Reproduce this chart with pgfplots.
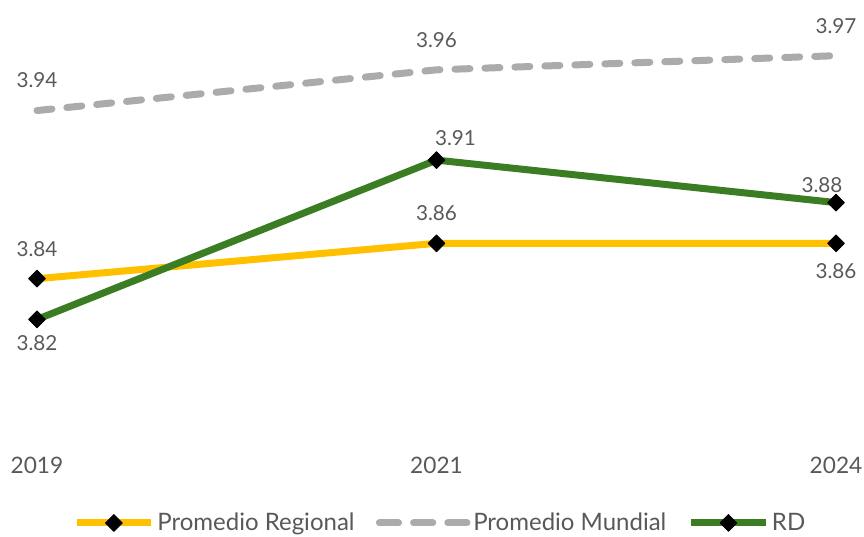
\documentclass[border=0pt]{standalone}
\usepackage{fontspec}
\setmainfont{Lato}
\usepackage{pgfplots}
\pgfplotsset{compat=1.18}
\definecolor{cyel}{HTML}{FFC000}
\definecolor{cgrn}{HTML}{3B7D23}
\definecolor{cgry}{HTML}{ABABAB}
\definecolor{ctxt}{HTML}{595959}
\begin{document}
\begin{tikzpicture}
\begin{axis}[
  at={(0,0)}, anchor=south west,
  scale only axis, width=599.25pt, height=331.875pt,
  xmin=0, xmax=2, ymin=3.75, ymax=4.0,
  axis line style={draw=none},
  xtick={0,1,2}, xticklabels={2019,2021,2024}, ytick=\empty,
  major tick length=0pt,
  xticklabel style={anchor=center, yshift=-20.25pt, font=\fontsize{17}{20}\selectfont, text=ctxt},
  clip=false,
  /pgf/number format/assume math mode=true,
  point meta=y,
  every node near coord/.append style={anchor=center, font=\fontsize{15.5}{18}\selectfont, text=ctxt},
  legend style={at={(0.505,-0.192)}, anchor=center, draw=none, fill=none,
    font=\fontsize{18}{21}\selectfont, text=ctxt,
    /tikz/every even column/.append style={column sep=14pt}},
  legend columns=3,
  legend image code/.code={\draw[mark repeat=2,mark phase=2] plot coordinates {(0pt,0pt) (28pt,0pt) (56pt,0pt)};},
]
\addplot[cyel, line width=5.25pt, line join=round, mark=square*, mark size=4.5pt,
  mark options={rotate=45, fill=black, draw=black, solid, line width=0.5pt},
  nodes near coords={\pgfmathprintnumber[fixed,precision=2,fixed zerofill]{\pgfplotspointmeta}},
  visualization depends on={value \thisrow{dx}\as\dx},
  visualization depends on={value \thisrow{dy}\as\dy},
  every node near coord/.append style={xshift={\dx*0.75pt}, yshift={\dy*0.75pt}}]
  table[x=x,y=y] {
x y dx dy
0 3.840 0 30
1 3.860 0 30
2 3.860 0 -28
};
\addlegendentry{Promedio Regional}
\addplot[cgry, line width=5.25pt, line cap=round, dash pattern=on 11.25pt off 11.25pt,
  nodes near coords={\pgfmathprintnumber[fixed,precision=2,fixed zerofill]{\pgfplotspointmeta}},
  visualization depends on={value \thisrow{dx}\as\dx},
  visualization depends on={value \thisrow{dy}\as\dy},
  every node near coord/.append style={xshift={\dx*0.75pt}, yshift={\dy*0.75pt}},
  legend image code/.code={\draw[dash pattern=on 14.4pt off 11.25pt] (2.6pt,0pt) -- (68.4pt,0pt);}]
  table[x=x,y=y] {
x y dx dy
0 3.935 0 30
1 3.958 0 30
2 3.966 0 30
};
\addlegendentry{Promedio Mundial}
\addplot[cgrn, line width=5.25pt, line join=round, mark=square*, mark size=4.5pt,
  mark options={rotate=45, fill=black, draw=black, solid, line width=0.5pt},
  nodes near coords={\pgfmathprintnumber[fixed,precision=2,fixed zerofill]{\pgfplotspointmeta}},
  visualization depends on={value \thisrow{dx}\as\dx},
  visualization depends on={value \thisrow{dy}\as\dy},
  every node near coord/.append style={xshift={\dx*0.75pt}, yshift={\dy*0.75pt}}]
  table[x=x,y=y] {
x y dx dy
0 3.817 0 -24
1 3.907 19 22
2 3.883 -14 17
};
\addlegendentry{RD}
\end{axis}
\pgfresetboundingbox
\path (-27.75pt,-73.5pt) rectangle (620.25pt,328.5pt);
\end{tikzpicture}
\end{document}
